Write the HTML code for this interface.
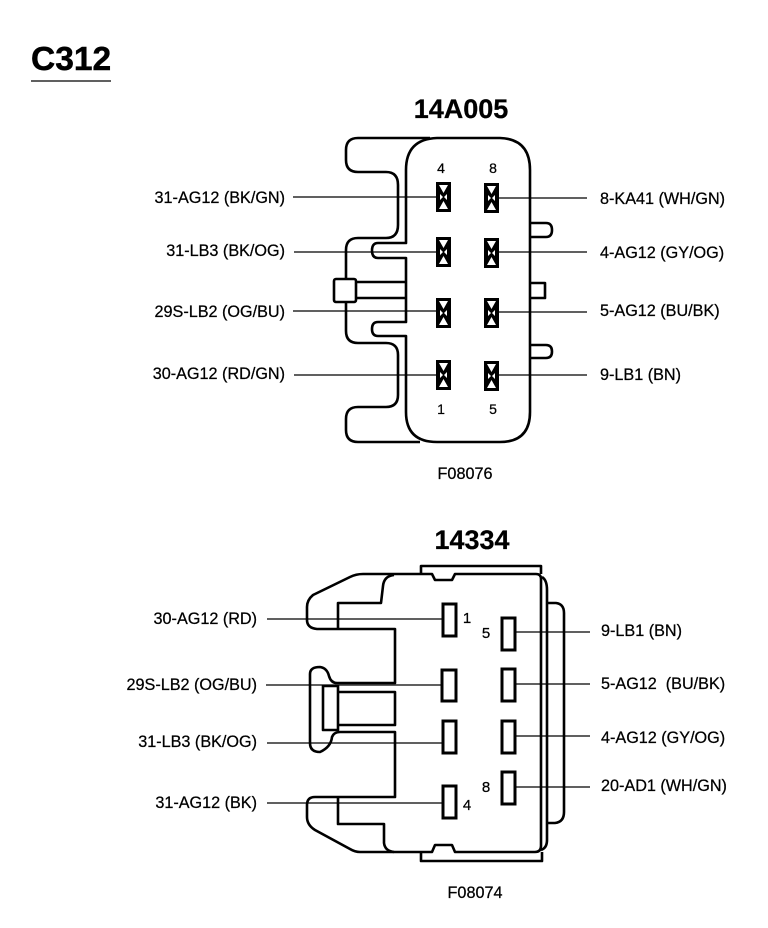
<!DOCTYPE html>
<html><head><meta charset="utf-8"><style>
html,body{margin:0;padding:0;background:#fff}
svg{display:block}
text{font-family:"Liberation Sans",sans-serif;fill:#000;stroke:#000;stroke-width:.25}
.l{font-size:16.200px;text-anchor:end}
.r{font-size:16.200px}
.n{font-size:14px;text-anchor:middle}
.h{font-size:27px;font-weight:bold;text-anchor:middle}
.o{fill:none;stroke:#000;stroke-width:2.6;stroke-linejoin:round}
.w{fill:none;stroke:#000;stroke-width:1.3}
.p{fill:#fff;stroke:#000;stroke-width:3}
</style></head><body>
<svg width="768" height="928" viewBox="0 0 768 928" xmlns="http://www.w3.org/2000/svg">
<text x="31" y="70" font-size="33.500" font-weight="bold" style="stroke-width:.5">C312</text>
<line x1="31" y1="81" x2="111" y2="81" stroke="#000" stroke-width="1.3"/>
<text class="h" x="461" y="118">14A005</text>
<text class="h" x="472" y="549">14334</text>

<!-- Top connector -->
<path class="o" d="M406 243V170Q406 139 437 138H500Q530 139 530 170V412Q530 442 500 442H437Q406 442 406 412V336H378Q372 336 372 329Q372 322 378 322H406V258H378Q372 258 372 250.500Q372 243 378 243Z"/>
<path class="o" d="M430 138H358Q346 138 346 150V160Q346 172 358 172H386Q398 172 398 185V225Q398 238 386 238H358Q346 238 346 250V331Q346 343 358 343H386Q398 343 398 355V395Q398 407 386 407H358Q346 407 346 419V430Q346 442 358 442H420"/>
<path class="o" d="M356 282H406M356 298H406"/>
<path class="o" d="M530 223H546Q552 223 552 230Q552 237 546 237H530M530 283H545V298H530M530 345H546Q552 345 552 351.500Q552 358 546 358H530"/>
<g class="w">
<path d="M293 197H436M294 252H436M293 311H436M294 375H436M499 198H587M499 252H587M499 312H587M499 375H587"/>
</g>
<rect x="334" y="279" width="22" height="23" rx="2" fill="#fff" stroke="#000" stroke-width="2.600"/>
<g fill="#000" stroke="none">
<g id="a"><rect x="436" y="182" width="15" height="30"/><path fill="#fff" d="M439 185H448L443.500 193ZM439 209H448L443.500 201ZM440 194L443 197L440 200ZM447 194L444 197L447 200Z"/></g>
<use href="#a" x="48" y="1"/>
<use href="#a" y="55"/>
<use href="#a" x="48" y="56"/>
<use href="#a" y="116"/>
<use href="#a" x="48" y="116"/>
<use href="#a" y="178"/>
<use href="#a" x="48" y="179"/>
</g>
<text class="n" x="441" y="173">4</text>
<text class="n" x="493" y="173">8</text>
<text class="n" x="441" y="414">1</text>
<text class="n" x="493" y="414">5</text>
<text class="l" x="285" y="203">31-AG12 (BK/GN)</text>
<text class="l" x="285" y="256">31-LB3 (BK/OG)</text>
<text class="l" x="285" y="317">29S-LB2 (OG/BU)</text>
<text class="l" x="285" y="379">30-AG12 (RD/GN)</text>
<text class="r" x="600" y="204">8-KA41 (WH/GN)</text>
<text class="r" x="600" y="258">4-AG12 (GY/OG)</text>
<text class="r" x="600" y="316">5-AG12 (BU/BK)</text>
<text class="r" x="600" y="380">9-LB1 (BN)</text>
<text x="465" y="479" font-size="16.200" text-anchor="middle">F08076</text>

<!-- Bottom connector -->
<path class="o" d="M421 574V566H541V574M421 852V861H542V852"/>
<path class="o" d="M363 574H432L435 580H452L455 574H536Q541 574 541 579V846Q541 852 535 852H455L452 845H435L432 852H360Q355 852 350 849L315 830Q307 825 307 817V805Q307 797 315 797H395V732H340Q334 732 332 737Q331 747 320 752Q310 752 310 743V674Q310 667 320 667Q327 668 329 676Q331 683 337 683H395V629H317Q307 628 307 620V607Q307 600 313 595L350 577Q356 574 363 574Z"/>
<path class="o" d="M338 630V603H381L383 586Q384 576 394 575M338 797V824H384V843Q385 851 394 852"/>
<rect class="o" x="323" y="686" width="15" height="44"/>
<path class="o" d="M338 692H395V725H338"/>
<path class="o" d="M542 577Q547 580 547 590V840Q547 848 541 850M548 603H556Q564 604 564 613V812Q564 822 555 823H548"/>
<g class="w">
<path d="M267 619H442M266 685H442M267 743H442M267 803H442M515 632H590M515 684H590M515 736H590M515 787H590"/>
</g>
<g class="p">
<rect x="443" y="604" width="13" height="32"/>
<rect x="442" y="670" width="14" height="31"/>
<rect x="443" y="721" width="13" height="32"/>
<rect x="443" y="786" width="13" height="32"/>
<rect x="502" y="618" width="13" height="32"/>
<rect x="502" y="669" width="13" height="32"/>
<rect x="502" y="721" width="13" height="32"/>
<rect x="502" y="772" width="13" height="32"/>
</g>
<text class="n" x="467" y="623" style="font-size:15px">1</text>
<text class="n" x="486" y="638" style="font-size:15px">5</text>
<text class="n" x="486" y="792" style="font-size:15px">8</text>
<text class="n" x="467" y="810" style="font-size:15px">4</text>
<text class="l" x="257" y="624">30-AG12 (RD)</text>
<text class="l" x="257" y="690">29S-LB2 (OG/BU)</text>
<text class="l" x="257" y="747">31-LB3 (BK/OG)</text>
<text class="l" x="257" y="808">31-AG12 (BK)</text>
<text class="r" x="601" y="636">9-LB1 (BN)</text>
<text class="r" x="601" y="689">5-AG12 &#160;(BU/BK)</text>
<text class="r" x="601" y="743">4-AG12 (GY/OG)</text>
<text class="r" x="601" y="791">20-AD1 (WH/GN)</text>
<text x="475" y="898" font-size="16.200" text-anchor="middle">F08074</text>
</svg>
</body></html>
